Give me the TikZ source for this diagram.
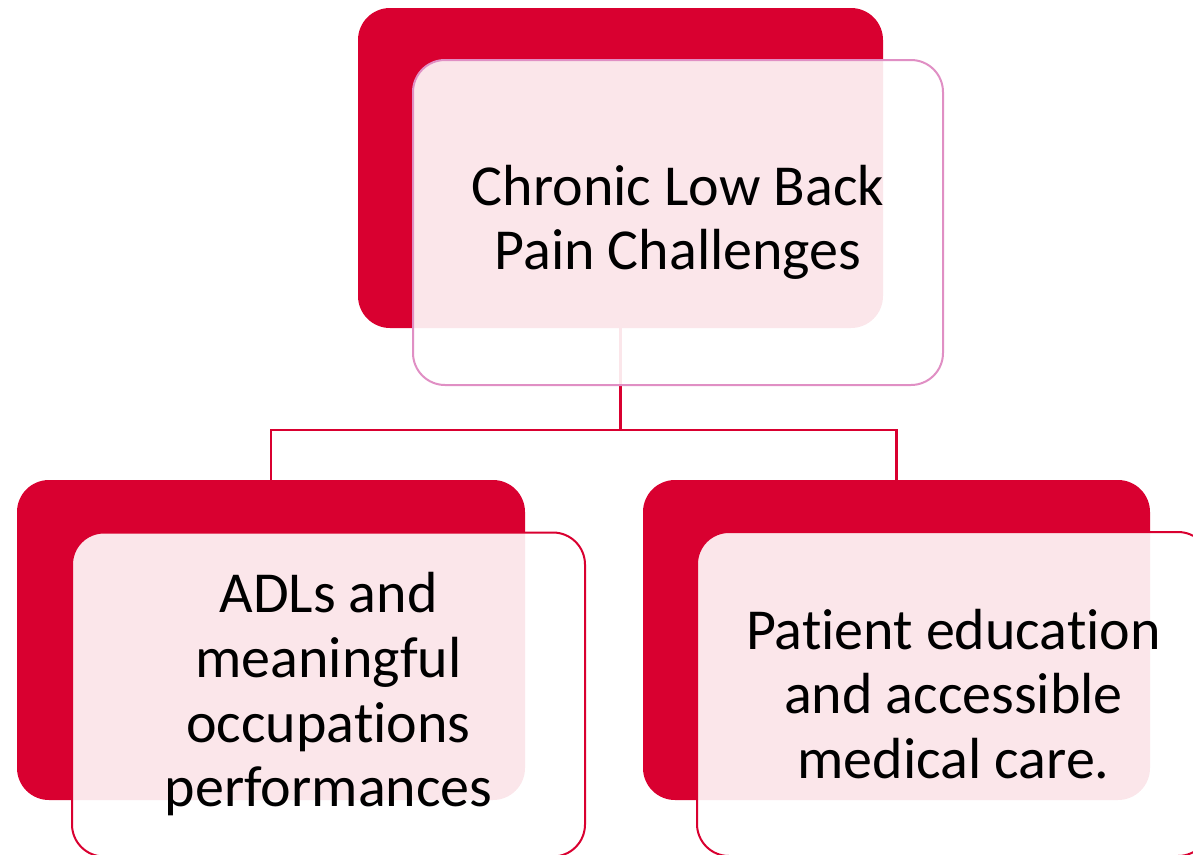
\documentclass[tikz,border=0pt]{standalone}
\usepackage{fontspec}
\setmainfont[Ligatures={NoCommon,NoContextual}, Contextuals=NoAlternate]{Carlito}
\definecolor{bred}{HTML}{D90030}
\definecolor{bpink}{HTML}{E08FC4}
\newcommand\nolig{\kern0pt}
\tikzset{
  backbox/.style={fill=bred, draw=none, rounded corners=24pt, minimum height=240pt, inner sep=0pt},
  frontbox/.style={fill=white, fill opacity=0.9, text opacity=1, line width=1.5pt, rounded corners=24pt, minimum width=384.75pt, minimum height=243pt, inner sep=0pt, align=center, font=\fontsize{43.5}{48.5}\selectfont},
  conn/.style={draw=bred, line width=1.9pt}
}
\begin{document}
\begin{tikzpicture}[x=0.75pt,y=-0.75pt]
\useasboundingbox (0,0) rectangle (1193,854);
\clip (0,0) rectangle (1193,854);
\node[backbox, minimum width=393.75pt] (topred) at (620.5,168) {};
\node[backbox, minimum width=381pt] (blred) at (271,640) {};
\node[backbox, minimum width=380.25pt] (brred) at (896.5,640) {};
\coordinate (j) at (620.5,430);
\draw[conn] (topred.south) -- (j);
\draw[conn] (blred.north) |- (j) -| (brred.north);
\node[frontbox, draw=bpink, minimum width=397.5pt, minimum height=243.75pt] (top) at (678,222.5) {Chronic Low Back\\Pain Challenges};
\node[frontbox, draw=bred] (bl) at (328.5,694.5) {ADLs and\\meaningful\\occupat\nolig ions\\performances};
\node[frontbox, draw=bred] (br) at (953.5,694) {Pat\nolig ient educat\nolig ion\\and accessible\\medical care.};
\end{tikzpicture}
\end{document}
